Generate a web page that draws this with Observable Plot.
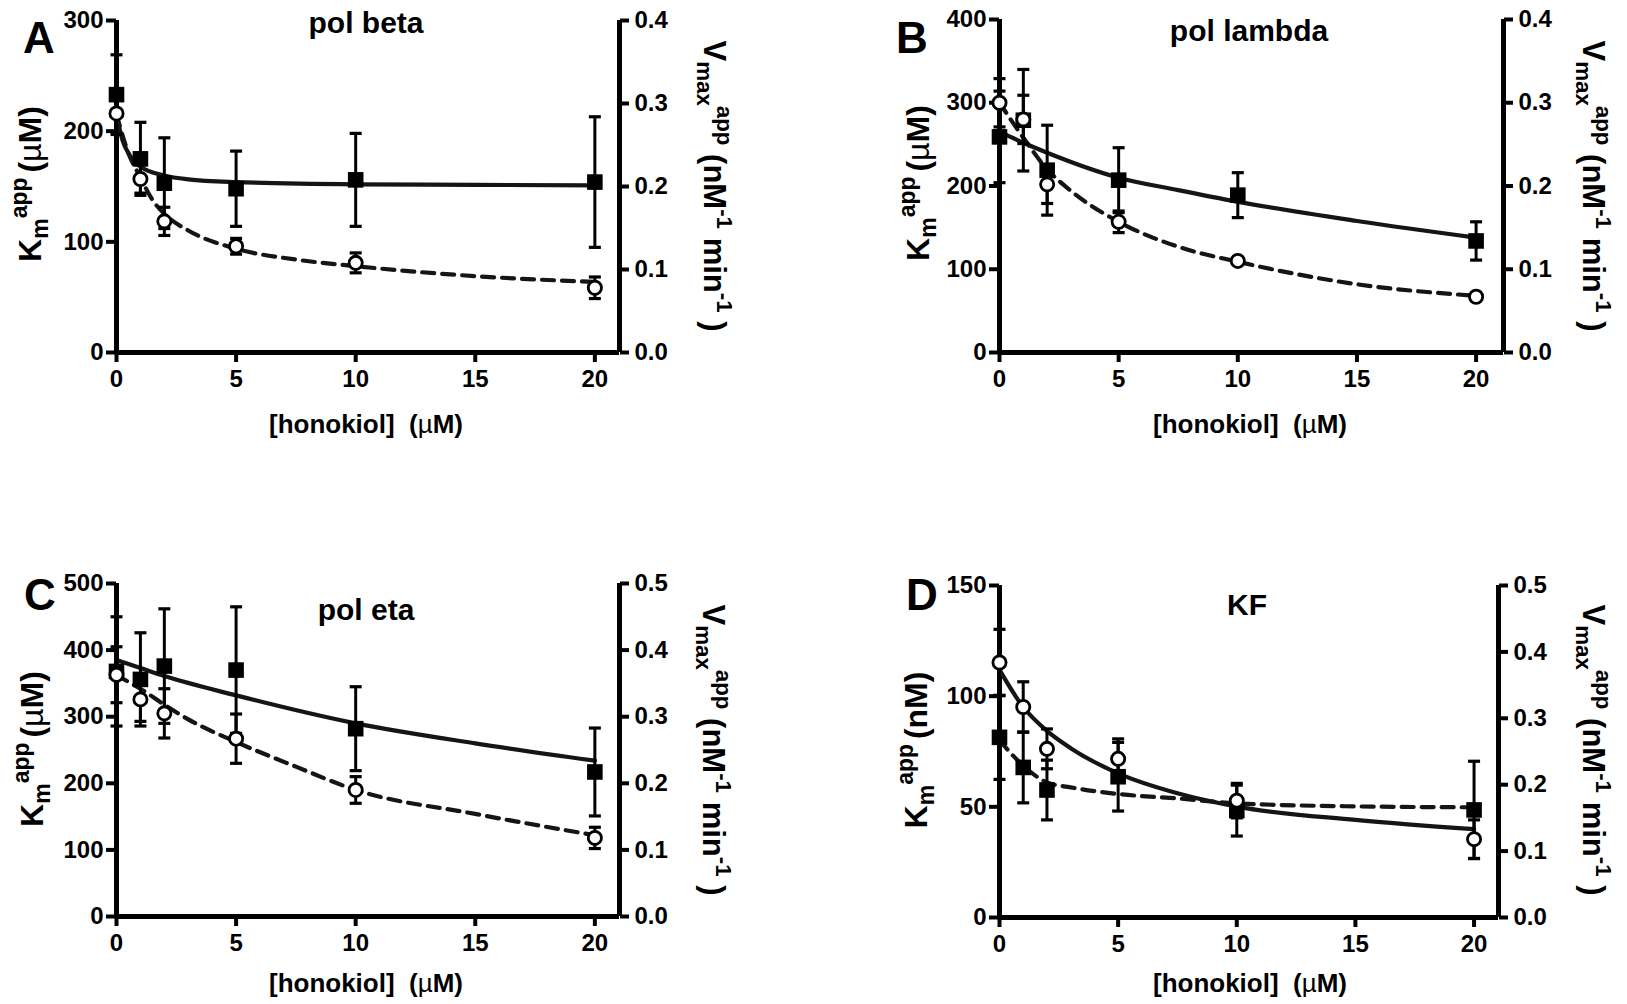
<!DOCTYPE html>
<html>
<head>
<meta charset="utf-8">
<script src="https://cdn.jsdelivr.net/npm/d3@7"></script>
<script src="https://cdn.jsdelivr.net/npm/@observablehq/plot@0.6"></script>
<style>
  body { margin: 0; background: #fff; }
  #wrap { position: relative; width: 1627px; height: 1004px; overflow: hidden;
          font-family: "Liberation Sans", Arial, sans-serif; color: #000; background: #fff; }
  #wrap svg { position: absolute; overflow: visible; }
  .abs { position: absolute; white-space: nowrap; line-height: 1; }
  .letter { font-size: 44px; font-weight: bold; }
  .title { font-size: 30px; font-weight: bold; transform: translate(-50%, 0); }
  .xlab { font-size: 26px; font-weight: bold; transform: translate(-50%, 0); }
  .ylab { font-size: 32px; font-weight: bold; transform: translate(-50%, -50%) rotate(-90deg); }
  .vlab { font-size: 31px; font-weight: bold; transform: translate(-50%, -50%) rotate(90deg); }
  .sub { font-size: 0.72em; position: relative; top: 0.32em; }
  .sup { font-size: 0.72em; position: relative; top: -0.6em; }
  .mu { font-weight: normal; }
  .gap { display: inline-block; width: 0.15em; }
</style>
</head>
<body>
<div id="wrap"></div>
<script>
// ---------- data ----------
const conc = [0, 1, 2, 5, 10, 20];            // [honokiol] (µM)
const xTicks = [0, 5, 10, 15, 20];

// Panel A: pol beta
const betaKm = [233, 175, 153, 148, 156, 154];          // µM (left axis)
const betaKmErr = [36, 33, 41, 34, 42, 59];
const betaVmax = [0.288, 0.209, 0.158, 0.128, 0.108, 0.078]; // right axis
const betaVmaxErr = [0.004, 0.017, 0.017, 0.0095, 0.012, 0.013];
const betaKmFitX = [0, 0.25, 0.5, 1, 2, 3, 5, 10, 15, 20];
const betaKmFitY = [215, 192, 180, 168, 160, 156.5, 154, 152, 151.5, 151];
const betaVmaxFitX = [0, 0.5, 1, 1.5, 2, 3, 5, 7.5, 10, 15, 20];
const betaVmaxFitY = [0.287, 0.240, 0.211, 0.184, 0.167, 0.147, 0.125, 0.112, 0.104, 0.092, 0.085];

// Panel B: pol lambda
const lambdaKm = [259, 279, 219, 207, 189, 134];
const lambdaKmErr = [55, 61, 54, 39, 27, 23];
const lambdaVmax = [0.300, 0.280, 0.202, 0.157, 0.110, 0.067];
const lambdaVmaxErr = [0.029, 0.029, 0.023, 0.013, 0.004, 0.002];
const lambdaKmFitX = [0, 1, 2, 5, 7.5, 10, 15, 20];
const lambdaKmFitY = [265, 252, 240, 210, 195, 181, 158, 138];
const lambdaVmaxFitX = [0, 1, 2, 3, 5, 7.5, 10, 15, 20];
const lambdaVmaxFitY = [0.300, 0.258, 0.220, 0.194, 0.157, 0.127, 0.109, 0.082, 0.068];

// Panel C: pol eta
const etaKm = [368, 356, 376, 370, 282, 217];
const etaKmErr = [82, 70, 86, 95, 63, 66];
const etaVmax = [0.363, 0.326, 0.305, 0.267, 0.190, 0.118];
const etaVmaxErr = [0.042, 0.033, 0.037, 0.037, 0.020, 0.016];
const etaKmFitX = [0, 1, 2, 5, 10, 15, 20];
const etaKmFitY = [385, 373, 361, 332, 290, 260, 234];
const etaVmaxFitX = [0, 1, 2, 3, 5, 7.5, 10, 15, 20];
const etaVmaxFitY = [0.362, 0.342, 0.318, 0.296, 0.262, 0.225, 0.190, 0.154, 0.122];

// Panel D: KF
const kfKm = [81.4, 67.8, 57.6, 63.6, 48.3, 48.6];       // nM (left axis)
const kfKmErr = [19, 16, 13.5, 15.5, 11.5, 22];
const kfVmax = [0.384, 0.317, 0.254, 0.239, 0.176, 0.118];
const kfVmaxErr = [0.050, 0.038, 0.030, 0.030, 0.026, 0.029];
const kfKmFitX = [0, 1, 2, 3, 5, 7.5, 10, 15, 20];
const kfKmFitY = [80, 68.6, 61, 58.8, 55.8, 53.8, 51.6, 50.2, 49.8];
const kfVmaxFitX = [0, 1, 2, 3, 5, 7.5, 10, 15, 20];
const kfVmaxFitY = [0.373, 0.317, 0.281, 0.255, 0.217, 0.187, 0.167, 0.147, 0.133];

const panelLetters = ["A", "B", "C", "D"];
const panelTitles = ["pol beta", "pol lambda", "pol eta", "KF"];
const leftMax = [300, 400, 500, 150];
const rightMax = [0.4, 0.4, 0.5, 0.5];
const leftTicks = [[0, 100, 200, 300], [0, 100, 200, 300, 400], [0, 100, 200, 300, 400, 500], [0, 50, 100, 150]];
const rightTicks = [[0, 0.1, 0.2, 0.3, 0.4], [0, 0.1, 0.2, 0.3, 0.4], [0, 0.1, 0.2, 0.3, 0.4, 0.5], [0, 0.1, 0.2, 0.3, 0.4, 0.5]];
const leftUnits = ["µM", "µM", "µM", "nM"];
// which series gets the solid fit line ("km" or "vmax")
const solidSeries = ["km", "km", "km", "vmax"];

// ---------- drawing ----------
const wrap = document.getElementById("wrap");
const capSymbol = { draw(ctx) { ctx.moveTo(-6, 0); ctx.lineTo(6, 0); } };
const FONT = '"Liberation Sans", Arial, sans-serif';

function panel(i, km, kmErr, vmax, vmaxErr, kmFx, kmFy, vmFx, vmFy, box) {
  const k = leftMax[i] / rightMax[i];
  const sq = conc.map((x, j) => ({x, y: km[j], lo: km[j] - kmErr[j], hi: km[j] + kmErr[j]}));
  const ci = conc.map((x, j) => ({x, y: vmax[j] * k, lo: (vmax[j] - vmaxErr[j]) * k, hi: (vmax[j] + vmaxErr[j]) * k}));
  const kmFit = kmFx.map((x, j) => ({x, y: kmFy[j]}));
  const vmFit = vmFx.map((x, j) => ({x, y: vmFy[j] * k}));
  const solid = solidSeries[i] === "km" ? kmFit : vmFit;
  const dashed = solidSeries[i] === "km" ? vmFit : kmFit;
  const caps = d => d.flatMap(p => [{x: p.x, y: p.lo}, {x: p.x, y: p.hi}]);

  const svg = Plot.plot({
    width: box.w, height: box.h,
    marginLeft: box.ml, marginRight: box.mr, marginTop: box.mt, marginBottom: box.mb,
    x: {domain: [0, box.xMax]},
    y: {domain: [0, leftMax[i]]},
    style: {fontFamily: FONT, fontSize: "24px", fontWeight: "bold", background: "transparent", color: "#000"},
    marks: [
      Plot.ruleY([0], {strokeWidth: 5}),
      Plot.ruleX([0], {strokeWidth: 5}),
      Plot.ruleX([box.xMax], {strokeWidth: 5}),
      Plot.axisX({ticks: xTicks, tickSize: 10, tickPadding: 7, strokeWidth: 4, label: null}),
      Plot.axisY({anchor: "left", ticks: leftTicks[i], tickSize: 10, tickPadding: 3, strokeWidth: 4, label: null}),
      Plot.axisY({anchor: "right", ticks: rightTicks[i].map(v => v * k), tickFormat: d => (d / k).toFixed(1),
                  tickSize: 9, tickPadding: 6, strokeWidth: 4, label: null}),
      Plot.line(solid, {x: "x", y: "y", stroke: "#151515", strokeWidth: 4.2, curve: "monotone-x"}),
      Plot.line(dashed, {x: "x", y: "y", stroke: "#151515", strokeWidth: 4.2, strokeDasharray: "12,8", curve: "monotone-x"}),
      Plot.ruleX(sq, {x: "x", y1: "lo", y2: "hi", strokeWidth: 3}),
      Plot.dot(caps(sq), {x: "x", y: "y", symbol: capSymbol, stroke: "#000", strokeWidth: 3.2, r: 3}),
      Plot.ruleX(ci, {x: "x", y1: "lo", y2: "hi", strokeWidth: 3}),
      Plot.dot(caps(ci), {x: "x", y: "y", symbol: capSymbol, stroke: "#000", strokeWidth: 3.2, r: 3}),
      Plot.dot(sq, {x: "x", y: "y", symbol: "square", r: 8.8, fill: "#000", stroke: "none"}),
      Plot.dot(ci, {x: "x", y: "y", r: 6.6, fill: "#fff", stroke: "#000", strokeWidth: 2.8})
    ]
  });
  svg.style.left = box.left + "px";
  svg.style.top = box.top + "px";
  wrap.appendChild(svg);
}

const boxes = [
  {left: 0,   top: 0,   w: 800, h: 460, ml: 116, mr: 181, mt: 20, mb: 108, xMax: 21.03},
  {left: 813, top: 0,   w: 814, h: 460, ml: 186, mr: 124, mt: 19, mb: 108, xMax: 21.15},
  {left: 0,   top: 500, w: 800, h: 504, ml: 116, mr: 181, mt: 83, mb: 88,  xMax: 21.03},
  {left: 813, top: 500, w: 814, h: 504, ml: 186, mr: 129, mt: 85, mb: 87,  xMax: 21.03}
];

panel(0, betaKm, betaKmErr, betaVmax, betaVmaxErr, betaKmFitX, betaKmFitY, betaVmaxFitX, betaVmaxFitY, boxes[0]);
panel(1, lambdaKm, lambdaKmErr, lambdaVmax, lambdaVmaxErr, lambdaKmFitX, lambdaKmFitY, lambdaVmaxFitX, lambdaVmaxFitY, boxes[1]);
panel(2, etaKm, etaKmErr, etaVmax, etaVmaxErr, etaKmFitX, etaKmFitY, etaVmaxFitX, etaVmaxFitY, boxes[2]);
panel(3, kfKm, kfKmErr, kfVmax, kfVmaxErr, kfKmFitX, kfKmFitY, kfVmaxFitX, kfVmaxFitY, boxes[3]);

// ---------- text overlays ----------
function addText(cls, html, left, top) {
  const d = document.createElement("div");
  d.className = "abs " + cls;
  d.innerHTML = html;
  d.style.left = left + "px";
  d.style.top = top + "px";
  wrap.appendChild(d);
}
const letterPos = [[23, 16], [896, 16], [24, 573], [906, 573]];
const titlePos = [[366, 8], [1249, 16], [366, 595], [1247, 590]];
const xlabPos = [[366, 411], [1250, 411], [366, 970], [1250, 970]];
const ylabPos = [[30, 184], [918, 183], [32, 749], [916, 750]];
const vlabPos = [[714, 186], [1593, 186], [713, 750], [1593, 750]];
for (let i = 0; i < 4; i++) {
  addText("letter", panelLetters[i], ...letterPos[i]);
  addText("title", panelTitles[i], ...titlePos[i]);
  addText("xlab", '[honokiol]&nbsp;&nbsp;(<span class="mu">µ</span>M)', ...xlabPos[i]);
  const u = leftUnits[i] === "µM" ? '<span class="mu">µ</span>M' : 'nM';
  addText("ylab", 'K<span class="sub">m</span><span class="sup">app</span><span class="gap"></span>(' + u + ')', ...ylabPos[i]);
  addText("vlab", 'V<span class="sub">max</span><span class="sup">app</span> (nM<span class="sup">-1</span> min<span class="sup">-1</span> )', ...vlabPos[i]);
}
</script>
</body>
</html>
